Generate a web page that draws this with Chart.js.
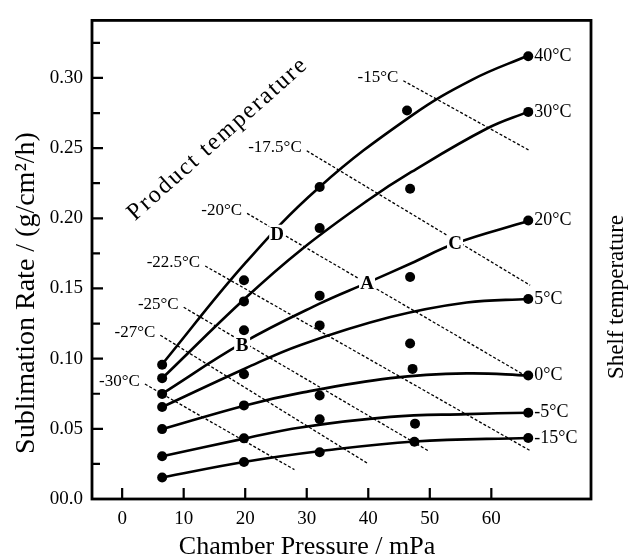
<!DOCTYPE html>
<html>
<head>
<meta charset="utf-8">
<script src="https://cdn.jsdelivr.net/npm/chart.js@4"></script>
<style>
  html, body { margin: 0; padding: 0; background: #fff; }
  #wrap { width: 631px; height: 558px; }
</style>
</head>
<body>
<div id="wrap"><canvas id="sublimation" width="631" height="558"></canvas></div>
<script>
// ---- data ----
// shelf temperature series (measured points)
const shelfTemps = ["40°C", "30°C", "20°C", "5°C", "0°C", "-5°C", "-15°C"];
const pressureCols = [6.5, 19.8, 32.1, 47, 66];          // chamber pressure, mPa
const col4Pressure = [46.3, 46.8, 46.8, 46.8, 47.2, 47.6, 47.5]; // 4th column drifts a bit
const rate40  = [0.0956, 0.1558, 0.2223, 0.2768, 0.3155];
const rate30  = [0.0861, 0.1408, 0.1930, 0.2211, 0.2758];
const rate20  = [0.0749, 0.1202, 0.1449, 0.1582, 0.1984];
const rate5   = [0.0655, 0.0889, 0.1237, 0.1108, 0.1425];
const rate0   = [0.0498, 0.0667, 0.0737, 0.0927, 0.0880];
const rateM5  = [0.0305, 0.0432, 0.0568, 0.0537, 0.0615];
const rateM15 = [0.0153, 0.0263, 0.0333, 0.0408, 0.0434];
const measuredRates = [rate40, rate30, rate20, rate5, rate0, rateM5, rateM15];

// fitted shelf-temperature curves (read at a few pressures)
const fitP40 = [6.5, 20, 32, 47, 57, 66];
const fitR40 = [0.096, 0.168, 0.222, 0.273, 0.299, 0.316];
const fitP30 = [6.5, 20, 29.2, 40, 47, 59.3, 66];
const fitR30 = [0.086, 0.143, 0.178, 0.213, 0.233, 0.264, 0.276];
const fitP20 = [6.5, 19.5, 32, 39.8, 47, 54.1, 66];
const fitR20 = [0.075, 0.111, 0.139, 0.154, 0.168, 0.182, 0.198];
const fitP5  = [6.5, 20, 28.9, 43.6, 56, 66];
const fitR5  = [0.0655, 0.093, 0.1096, 0.1296, 0.140, 0.1425];
const fitP0  = [6.5, 20, 29, 43.6, 56, 66];
const fitR0  = [0.0498, 0.0667, 0.0756, 0.0861, 0.0895, 0.088];
const fitPM5 = [6.5, 20, 29, 43.6, 56, 66];
const fitRM5 = [0.0305, 0.0432, 0.051, 0.0585, 0.0605, 0.0615];
const fitPM15 = [6.5, 20, 32, 47.5, 66];
const fitRM15 = [0.0153, 0.0265, 0.034, 0.041, 0.0435];
const fitP = [fitP40, fitP30, fitP20, fitP5, fitP0, fitPM5, fitPM15];
const fitR = [fitR40, fitR30, fitR20, fitR5, fitR0, fitRM5, fitRM15];

// product temperature isotherms (dotted straight lines)
const productTemps = ["-15°C", "-17.5°C", "-20°C", "-22.5°C", "-25°C", "-27°C", "-30°C"];
const isoStartP = [45.7, 30.0, 20.3, 13.5, 10.0, 6.2, 3.7];
const isoStartR = [0.298, 0.2481, 0.2035, 0.166, 0.1366, 0.1167, 0.0819];
const isoEndP   = [66.3, 66.3, 65.2, 66.3, 49.7, 40.0, 28.0];
const isoEndR   = [0.2481, 0.1523, 0.0887, 0.0345, 0.0345, 0.0251, 0.0209];

// operating points marked with letters
const letterNames = ["A", "B", "C", "D"];
const letterP = [39.8, 19.5, 54.1, 25.2];
const letterR = [0.154, 0.110, 0.182, 0.189];

// axis ticks
const xTicks = [0, 10, 20, 30, 40, 50, 60];
const yTicks = [0, 0.025, 0.05, 0.075, 0.1, 0.125, 0.15, 0.175, 0.2, 0.225, 0.25, 0.275, 0.3, 0.325];

const SERIF = "'Liberation Serif', 'Times New Roman', serif";

// ---- datasets ----
const datasets = [];
measuredRates.forEach((rates, i) => {
    datasets.push({
        label: "measured " + shelfTemps[i],
        data: rates.map((r, j) => ({ x: j === 3 ? col4Pressure[i] : pressureCols[j], y: r })),
        showLine: false,
        pointRadius: 5,
        pointBackgroundColor: "#000",
        pointBorderWidth: 0,
        order: 0,
    });
});
fitP.forEach((ps, i) => {
    datasets.push({
        label: "fit " + shelfTemps[i],
        data: ps.map((p, j) => ({ x: p, y: fitR[i][j] })),
        showLine: true,
        borderColor: "#000",
        borderWidth: 2.6,
        pointRadius: 0,
        tension: 0.4,
        order: 1,
    });
});
productTemps.forEach((t, i) => {
    datasets.push({
        label: "product " + t,
        data: [{ x: isoStartP[i], y: isoStartR[i] }, { x: isoEndP[i], y: isoEndR[i] }],
        showLine: true,
        borderColor: "#000",
        borderWidth: 1.3,
        borderDash: [3, 2],
        pointRadius: 0,
        order: 2,
    });
});

// inward ticks, frame, annotations
const decorations = {
    id: "decorations",
    afterDatasetsDraw(chart) {
        const ctx = chart.ctx;
        const xs = chart.scales.x, ys = chart.scales.y;
        const a = chart.chartArea;
        ctx.save();
        ctx.fillStyle = "#000";
        ctx.textBaseline = "middle";

        // isotherm labels
        ctx.font = "17px " + SERIF;
        ctx.textAlign = "right";
        productTemps.forEach((t, i) => {
            ctx.fillText(t, xs.getPixelForValue(isoStartP[i]) - 5, ys.getPixelForValue(isoStartR[i]) - 3);
        });

        // shelf labels at right ends of curves
        ctx.font = "18px " + SERIF;
        ctx.textAlign = "left";
        shelfTemps.forEach((t, i) => {
            const r = measuredRates[i][4];
            ctx.fillText(t, xs.getPixelForValue(pressureCols[4]) + 6, ys.getPixelForValue(r));
        });

        // letters with white background
        ctx.font = "bold 19px " + SERIF;
        ctx.textAlign = "center";
        letterNames.forEach((l, i) => {
            const px = xs.getPixelForValue(letterP[i]);
            const py = ys.getPixelForValue(letterR[i]);
            ctx.fillStyle = "#fff";
            ctx.fillRect(px - 8, py - 9, 16, 18);
            ctx.fillStyle = "#000";
            ctx.fillText(l, px, py + 1);
        });

        // frame
        ctx.strokeStyle = "#000";
        ctx.lineWidth = 2.8;
        ctx.strokeRect(a.left, a.top, a.right - a.left, a.bottom - a.top);

        // inward tick marks
        ctx.lineWidth = 2.2;
        ctx.beginPath();
        xTicks.forEach(v => {
            const px = xs.getPixelForValue(v);
            ctx.moveTo(px, a.bottom);
            ctx.lineTo(px, a.bottom - 11);
        });
        yTicks.forEach((v, k) => {
            if (v === 0) return;
            const py = ys.getPixelForValue(v);
            ctx.moveTo(a.left, py);
            ctx.lineTo(a.left + (k % 2 === 0 ? 11 : 8), py);
        });
        ctx.stroke();
        ctx.restore();
    },
    afterDraw(chart) {
        const ctx = chart.ctx;
        ctx.save();
        ctx.fillStyle = "#000";
        ctx.textAlign = "center";
        ctx.textBaseline = "middle";
        ctx.font = "26px " + SERIF;
        ctx.fillText("Chamber Pressure / mPa", 307, 547);

        ctx.save();
        ctx.translate(27, 293);
        ctx.rotate(-Math.PI / 2);
        ctx.font = "28px " + SERIF;
        ctx.fillText("Sublimation Rate / (g/cm²/h)", 0, 0);
        ctx.restore();

        ctx.save();
        ctx.translate(617, 297);
        ctx.rotate(-Math.PI / 2);
        ctx.font = "23px " + SERIF;
        ctx.fillText("Shelf temperature", 0, 0);
        ctx.restore();

        ctx.save();
        ctx.translate(218, 139);
        ctx.rotate(-41.7 * Math.PI / 180);
        ctx.font = "24px " + SERIF;
        ctx.letterSpacing = "2px";
        ctx.fillText("Product temperature", 0, 0);
        ctx.restore();
        ctx.restore();
    },
};

const sublimationctx = document.getElementById("sublimation").getContext("2d");

const sublimation = new Chart(sublimationctx, {
    type: "scatter",
    data: { datasets: datasets },
    options: {
        responsive: false,
        animation: false,
        layout: { padding: { top: 15, right: 40, left: 0, bottom: 0 } },
        plugins: {
            legend: { display: false },
            tooltip: { enabled: false },
        },
        scales: {
            x: {
                type: "linear",
                min: -4.9,
                max: 76.2,
                grid: { display: false, drawTicks: false },
                border: { display: false },
                afterBuildTicks: (scale) => { scale.ticks = xTicks.map(v => ({ value: v })); },
                afterFit: (scale) => { scale.height = 59; },
                ticks: {
                    color: "#000",
                    padding: 9,
                    maxRotation: 0,
                    autoSkip: false,
                    font: { family: SERIF, size: 19 },
                    callback: (v) => String(v),
                },
            },
            y: {
                type: "linear",
                min: 0,
                max: 0.341,
                grid: { display: false, drawTicks: false },
                border: { display: false },
                afterBuildTicks: (scale) => { scale.ticks = yTicks.map(v => ({ value: v })); },
                afterFit: (scale) => { scale.width = 92; },
                ticks: {
                    color: "#000",
                    padding: 9,
                    autoSkip: false,
                    font: { family: SERIF, size: 19 },
                    callback: (v) => {
                        const k = Math.round(v / 0.025);
                        if (k % 2 !== 0) return "";
                        return k === 0 ? "00.0" : v.toFixed(2);
                    },
                },
            },
        },
    },
    plugins: [decorations],
});
</script>
</body>
</html>
